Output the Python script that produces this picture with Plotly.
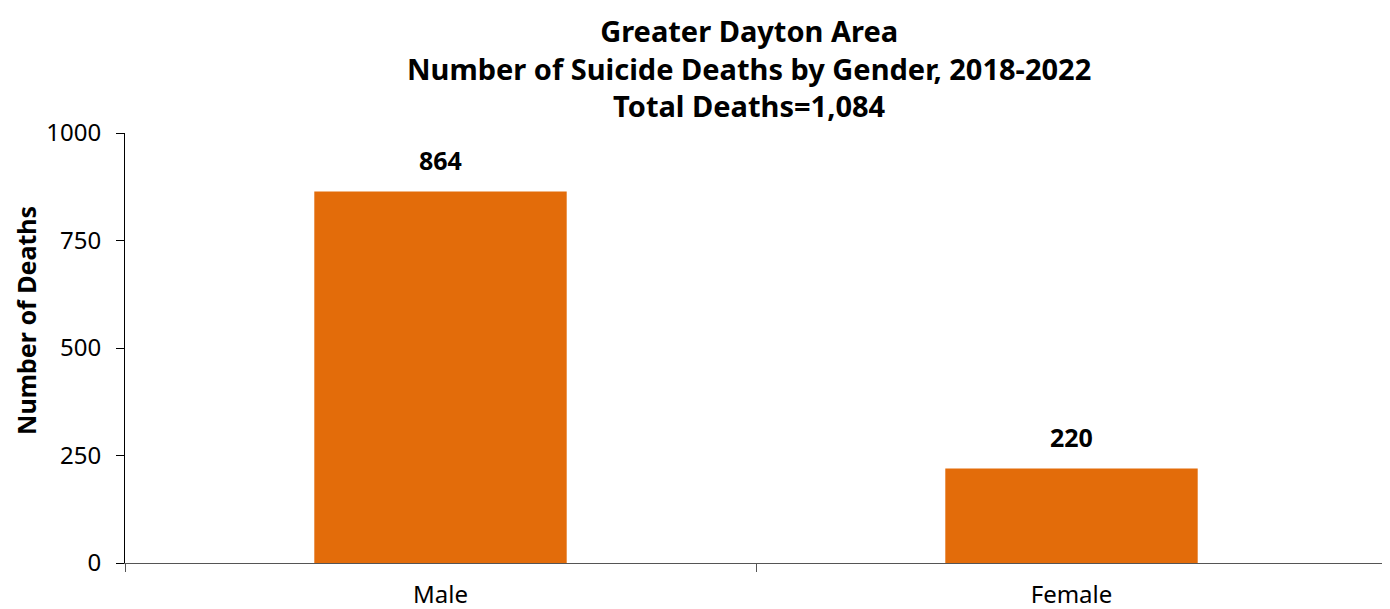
import plotly.graph_objects as go

# 数据
genders = ["Male", "Female"]
deaths = [864, 220]
y_ticks = [0, 250, 500, 750, 1000]
title_lines = [
    "Greater Dayton Area",
    "Number of Suicide Deaths by Gender, 2018-2022",
    "Total Deaths=1,084",
]

FONT = "Noto Sans"
BAR_COLOR = "#E36C0A"

fig = go.Figure(
    go.Bar(
        x=genders,
        y=deaths,
        marker=dict(color=BAR_COLOR, line=dict(width=0)),
        width=0.4,
    )
)

# 数值标签
for g, d in zip(genders, deaths):
    fig.add_annotation(
        x=g, y=d, text=f"<b>{d}</b>", showarrow=False,
        yanchor="bottom", yshift=12,
        font=dict(family=FONT, size=25, color="black"),
    )

# 标题（三行）
fig.add_annotation(
    text="<b>" + "<br>".join(title_lines) + "</b>",
    xref="paper", yref="paper", x=0.4945, y=1,
    xanchor="center", yanchor="bottom", yshift=6,
    showarrow=False, align="center",
    font=dict(family=FONT, size=29, color="black"),
)

# y轴标题（原图略偏上）
fig.add_annotation(
    text="<b>Number of Deaths</b>",
    xref="paper", yref="paper", x=0, y=0.563,
    xanchor="center", yanchor="middle", xshift=-99,
    textangle=-90, showarrow=False,
    font=dict(family=FONT, size=25, color="black"),
)

fig.update_layout(
    width=1382,
    height=601,
    paper_bgcolor="white",
    plot_bgcolor="white",
    margin=dict(l=117, r=3, t=125, b=46),
    showlegend=False,
    font=dict(family=FONT, color="black"),
)

fig.update_xaxes(
    showline=True, linecolor="#555", linewidth=1,
    ticks="outside", tickson="boundaries", ticklen=8, tickcolor="#555",
    tickfont=dict(size=24, color="black"), ticklabelstandoff=10,
    showgrid=False, automargin=False,
)
fig.update_yaxes(
    range=[0, 1000],
    tickvals=y_ticks,
    showline=True, linecolor="black", linewidth=1,
    ticks="outside", ticklen=8, tickcolor="black",
    tickfont=dict(size=24, color="black"), ticklabelstandoff=10,
    showgrid=False, zeroline=False, automargin=False,
)

fig.write_html("out.html")
